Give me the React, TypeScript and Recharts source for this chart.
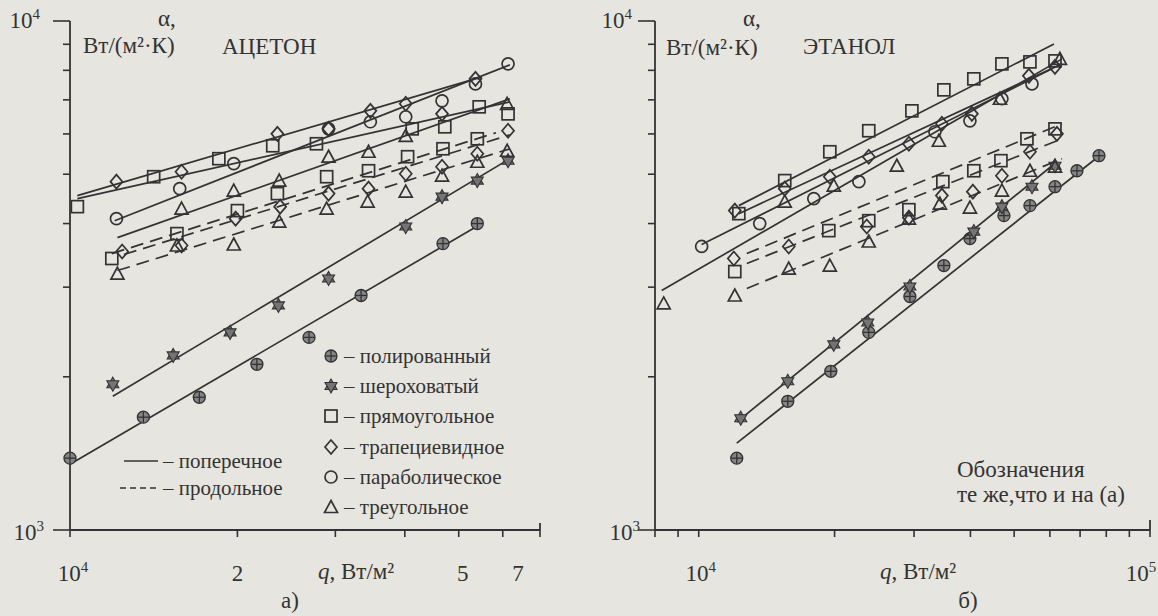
import React from "react";
import { ScatterChart, Scatter, XAxis, YAxis } from "recharts";

const W = 1158;
const H = 616;
const TOP = 21;
const BOTTOM = 530;
const INK = "#333";
const PAPER = "#e7e5df";
const FONT = "'Liberation Serif', 'Times New Roman', serif";

// ---- АЦЕТОН: [q, alpha] ----
const acePolished = [[10000, 1384], [13550, 1666], [17080, 1823], [21680, 2116], [26900, 2390], [33370, 2889], [46840, 3653], [54000, 4000]];
const acePolishedFit = [[10000, 1347], [55000, 4000]];
const aceRough = [[11940, 1934], [15330, 2203], [19400, 2445], [23700, 2762], [29170, 3120], [40150, 3946], [46660, 4518], [54000, 4858], [61330, 5316]];
const aceRoughFit = [[11940, 1831], [61800, 5364]];
const aceRect = [[10310, 4318], [14140, 4944], [18520, 5364], [23150, 5687], [27740, 5739], [41240, 6139], [47200, 6196], [54420, 6782], [61330, 6570]];
const aceRectFit = [[10310, 4477], [61800, 6937]];
const aceTrap = [[12120, 4835], [15870, 5056], [23600, 6002], [29170, 6139], [34680, 6660], [40150, 6876], [46660, 6570], [53590, 7697]];
const aceTrapFit = [[10310, 4539], [55050, 7766]];
const acePara = [[12120, 4090], [15750, 4684], [19700, 5244], [29170, 6139], [34680, 6339], [40150, 6484], [46660, 6968], [53590, 7523], [61330, 8237]];
const aceParaFit = [[12030, 4052], [61800, 8199]];
const aceTri = [[15870, 4279], [19700, 4642], [23780, 4858], [29170, 5412], [34420, 5535], [40150, 5948], [61090, 6876]];
const aceTriFit = [[12170, 3754], [61800, 7034]];
const aceRectL = [[11890, 3415], [15570, 3822], [20000, 4241], [23600, 4580], [28940, 4944], [34420, 5079], [40460, 5412], [46840, 5610], [54000, 5869]];
const aceRectLFit = [[11890, 3492], [58340, 6032]];
const aceTrapL = [[12410, 3525], [15870, 3622], [19850, 4090], [23870, 4318], [29170, 4580], [34420, 4684], [40150, 5012], [46660, 5173], [54000, 5486], [61330, 6087]];
const aceTrapLFit = [[12500, 3477], [61800, 5976]];
const aceTriL = [[12170, 3190], [15570, 3622], [19700, 3638], [23780, 4036], [28940, 4279], [34290, 4416], [40150, 4621], [46660, 4967], [54000, 5290], [61090, 5560]];
const aceTriLFit = [[12170, 3234], [61800, 5610]];

// ---- ЭТАНОЛ: [q, alpha] ----
const ethRect = [[12270, 4183], [15510, 4858], [19520, 5535], [23810, 6087], [29670, 6660], [34930, 7324], [40700, 7697], [46970, 8237], [54190, 8311], [61580, 8349]];
const ethRectFit = [[12270, 4338], [61260, 9013]];
const ethTrap = [[12020, 4241], [15510, 4684], [19520, 4944], [23810, 5412], [29220, 5739], [34580, 6281], [40300, 6570], [53910, 7802], [61580, 8126]];
const ethTrapFit = [[12270, 4183], [63810, 8237]];
const ethPara = [[10150, 3606], [13650, 4000], [17990, 4477], [22640, 4835], [33370, 6059], [39900, 6367], [46970, 7034], [54760, 7523]];
const ethParaFit = [[10150, 3638], [60640, 8054]];
const ethTri = [[8363, 2787], [15510, 4416], [19920, 4748], [27480, 5196], [34050, 5817], [46500, 7034], [63150, 8425]];
const ethTriFit = [[8278, 2955], [63810, 8425]];
const ethRectL = [[12020, 3219], [19420, 3874], [23810, 4052], [29220, 4259], [34750, 4835], [40700, 5079], [46740, 5316], [53370, 5869], [61580, 6139]];
const ethRectLFit = [[12780, 3492], [63810, 6281]];
const ethTrapL = [[11960, 3415], [15830, 3606], [23570, 3946], [29220, 4108], [34580, 4539], [40500, 4621], [46970, 4967], [54190, 5535], [62200, 6002]];
const ethTrapLFit = [[12780, 3339], [63810, 5869]];
const ethTriL = [[12020, 2889], [15830, 3263], [19520, 3308], [23810, 3688], [29220, 4090], [34230, 4377], [39900, 4300], [46970, 4642], [54190, 5079], [61580, 5173]];
const ethTriLFit = [[12780, 2982], [63810, 5364]];
const ethRough = [[12390, 1658], [15750, 1960], [19920, 2316], [23690, 2557], [29370, 3009], [40700, 3857], [46970, 4318], [54760, 4726], [61580, 5196]];
const ethRoughFit = [[12140, 1629], [62200, 5290]];
const ethPolished = [[12140, 1384], [15750, 1790], [19620, 2050], [23810, 2445], [29370, 2876], [34930, 3308], [39900, 3737], [47460, 4146], [54190, 4338], [61580, 4726], [68890, 5079], [77080, 5437]];
const ethPolishedFit = [[12140, 1481], [78280, 5486]];

// ---- axes ----
const yTicks = [1000, 2000, 3000, 4000, 5000, 6000, 7000, 8000, 9000, 10000];
const aceXTicks = [10000, 20000, 30000, 40000, 50000, 60000, 70000];
const ethXTicks = [8000, 9000, 10000, 20000, 30000, 40000, 50000, 60000, 70000, 80000, 90000, 100000];
const aceXLabels = [
  { v: 10000, base: "10", sup: "4", dx: 3 },
  { v: 20000, base: "2", sup: "", dx: 0 },
  { v: 50000, base: "5", sup: "", dx: 4 },
  { v: 70000, base: "7", sup: "", dx: -22 },
];
const ethXLabels = [
  { v: 10000, base: "10", sup: "4", dx: 2 },
  { v: 100000, base: "10", sup: "5", dx: -9 },
];

const legendNames = ["полированный", "шероховатый", "прямоугольное", "трапециевидное", "параболическое", "треугольное"];
const lineNames = ["поперечное", "продольное"];

type MP = { cx?: number; cy?: number };

const Polished = ({ cx = 0, cy = 0 }: MP) => (
  <g stroke={INK} strokeWidth={1.3}>
    <circle cx={cx} cy={cy} r={6} fill="#858585" />
    <line x1={cx - 5.5} x2={cx + 5.5} y1={cy} y2={cy} />
    <line x1={cx} x2={cx} y1={cy - 5.5} y2={cy + 5.5} />
  </g>
);
const Star = ({ cx = 0, cy = 0 }: MP) => (
  <g fill="#747474" stroke={INK} strokeWidth={1.1}>
    <path d={`M${cx},${cy - 7} L${cx + 6},${cy + 3.5} L${cx - 6},${cy + 3.5} Z`} />
    <path d={`M${cx},${cy + 7} L${cx + 6},${cy - 3.5} L${cx - 6},${cy - 3.5} Z`} />
  </g>
);
const Square = ({ cx = 0, cy = 0 }: MP) => (
  <rect x={cx - 6} y={cy - 6} width={12} height={12} fill="none" stroke={INK} strokeWidth={1.7} />
);
const Diamond = ({ cx = 0, cy = 0 }: MP) => (
  <path d={`M${cx},${cy - 7} L${cx + 6},${cy} L${cx},${cy + 7} L${cx - 6},${cy} Z`} fill="none" stroke={INK} strokeWidth={1.7} />
);
const Ring = ({ cx = 0, cy = 0 }: MP) => <circle cx={cx} cy={cy} r={6} fill="none" stroke={INK} strokeWidth={1.7} />;
const Tri = ({ cx = 0, cy = 0 }: MP) => (
  <path d={`M${cx},${cy - 6.5} L${cx + 6.5},${cy + 5.5} L${cx - 6.5},${cy + 5.5} Z`} fill="none" stroke={INK} strokeWidth={1.7} />
);
const NoMark = () => <g />;

const legendShapes = [Polished, Star, Square, Diamond, Ring, Tri];

type Series = { data: number[][]; fit: number[][]; shape: (p: MP) => React.ReactElement; dashed?: boolean };

const aceSeries: Series[] = [
  { data: acePolished, fit: acePolishedFit, shape: Polished },
  { data: aceRough, fit: aceRoughFit, shape: Star },
  { data: aceRect, fit: aceRectFit, shape: Square },
  { data: aceTrap, fit: aceTrapFit, shape: Diamond },
  { data: acePara, fit: aceParaFit, shape: Ring },
  { data: aceTri, fit: aceTriFit, shape: Tri },
  { data: aceRectL, fit: aceRectLFit, shape: Square, dashed: true },
  { data: aceTrapL, fit: aceTrapLFit, shape: Diamond, dashed: true },
  { data: aceTriL, fit: aceTriLFit, shape: Tri, dashed: true },
];

const ethSeries: Series[] = [
  { data: ethPolished, fit: ethPolishedFit, shape: Polished },
  { data: ethRough, fit: ethRoughFit, shape: Star },
  { data: ethRect, fit: ethRectFit, shape: Square },
  { data: ethTrap, fit: ethTrapFit, shape: Diamond },
  { data: ethPara, fit: ethParaFit, shape: Ring },
  { data: ethTri, fit: ethTriFit, shape: Tri },
  { data: ethRectL, fit: ethRectLFit, shape: Square, dashed: true },
  { data: ethTrapL, fit: ethTrapLFit, shape: Diamond, dashed: true },
  { data: ethTriL, fit: ethTriLFit, shape: Tri, dashed: true },
];

const pts = (arr: number[][]) => arr.map(([q, a]) => ({ q, a }));

function SupText({ x, y, anchor, base, sup, size = 23 }: any) {
  return (
    <text x={x} y={y} textAnchor={anchor} fontFamily={FONT} fontSize={size} fill={INK}>
      {base}
      {sup ? (
        <tspan dy={-9} fontSize={15}>
          {sup}
        </tspan>
      ) : null}
    </text>
  );
}

const makeXTick = (labels: typeof aceXLabels, lastV: number, endUp: number) => (p: any) => {
  const x = p.x;
  const v = p.payload.value;
  const lab = labels.find((l) => l.v === v);
  return (
    <g>
      <line x1={x} x2={x} y1={BOTTOM} y2={BOTTOM + 7} stroke={INK} strokeWidth={1.6} />
      {v === lastV && <line x1={x} x2={x} y1={BOTTOM} y2={BOTTOM - endUp} stroke={INK} strokeWidth={1.8} />}
      {lab && <SupText x={x + lab.dx} y={581} anchor="middle" base={lab.base} sup={lab.sup} />}
    </g>
  );
};

const makeYTick = (axisX: number, topRight: number, bottomRight: number) => (p: any) => {
  const y = p.y;
  const v = p.payload.value;
  const major = v === 1000 || v === 10000;
  return (
    <g>
      <line x1={axisX - (major ? 17 : 7)} x2={axisX} y1={y} y2={y} stroke={INK} strokeWidth={1.6} />
      {v === 10000 && <SupText x={topRight} y={y + 7} anchor="end" base="10" sup="4" />}
      {v === 1000 && <SupText x={bottomRight} y={y + 10} anchor="end" base="10" sup="3" />}
    </g>
  );
};

function Panel({ x0, x1, domain, xTicks, xTick, yTick, series }: any) {
  return (
    <div style={{ position: "absolute", left: 0, top: 0 }}>
      <ScatterChart width={W} height={H} margin={{ top: TOP, bottom: H - BOTTOM - 40, left: x0 - 40, right: W - x1 }}>
        <XAxis
          type="number"
          dataKey="q"
          scale="log"
          domain={domain}
          ticks={xTicks}
          interval={0}
          tick={xTick}
          tickLine={false}
          axisLine={{ stroke: INK, strokeWidth: 1.8 }}
          height={40}
        />
        <YAxis
          type="number"
          dataKey="a"
          scale="log"
          domain={[1000, 10000]}
          ticks={yTicks}
          interval={0}
          tick={yTick}
          tickLine={false}
          axisLine={{ stroke: INK, strokeWidth: 1.8 }}
          width={40}
        />
        {(series as Series[]).flatMap((s, i) => [
          <Scatter
            key={`fit${i}`}
            data={pts(s.fit)}
            line={{ stroke: INK, strokeWidth: 1.7, strokeDasharray: s.dashed ? "13 7" : undefined }}
            shape={NoMark}
            legendType="none"
            isAnimationActive={false}
          />,
          <Scatter key={`pts${i}`} data={pts(s.data)} shape={s.shape} legendType="none" isAnimationActive={false} />,
        ])}
      </ScatterChart>
    </div>
  );
}

function Notes() {
  const t = { fontFamily: FONT, fontSize: 23, fill: INK };
  const lg = { fontFamily: FONT, fontSize: 21, fill: INK };
  const rows = [356, 386, 416, 447, 477, 507];
  return (
    <svg width={W} height={H} style={{ position: "absolute", left: 0, top: 0, pointerEvents: "none" }}>
      {/* left panel captions */}
      <text x={158} y={26} {...t}>α,</text>
      <text x={83} y={53} {...t}>Вт/(м²·К)</text>
      <text x={222} y={54} {...t}>АЦЕТОН</text>
      <text x={318} y={579} {...t}>
        <tspan fontStyle="italic">q</tspan>, Вт/м²
      </text>
      <text x={290} y={608} textAnchor="middle" {...t}>а)</text>
      {legendNames.map((n, i) => {
        const M = legendShapes[i];
        return (
          <g key={n}>
            <M cx={331} cy={rows[i]} />
            <text x={344} y={rows[i] + 7} {...lg}>– {n}</text>
          </g>
        );
      })}
      <line x1={124} x2={158} y1={461} y2={461} stroke={INK} strokeWidth={1.6} />
      <line x1={120} x2={158} y1={488} y2={488} stroke={INK} strokeWidth={1.6} strokeDasharray="6 4" />
      <text x={163} y={468} {...lg}>– {lineNames[0]}</text>
      <text x={163} y={495} {...lg}>– {lineNames[1]}</text>
      {/* right panel captions */}
      <text x={743} y={26} {...t}>α,</text>
      <text x={666} y={55} {...t}>Вт/(м²·К)</text>
      <text x={803} y={54} {...t}>ЭТАНОЛ</text>
      <text x={880} y={579} {...t}>
        <tspan fontStyle="italic">q</tspan>, Вт/м²
      </text>
      <text x={968} y={608} textAnchor="middle" {...t}>б)</text>
      <text x={957} y={477} {...t}>Обозначения</text>
      <text x={957} y={502} {...t}>те же,что и на (а)</text>
    </svg>
  );
}

export default function App() {
  return (
    <div style={{ position: "absolute", left: 0, top: 0, width: W, height: H, background: PAPER, overflow: "hidden" }}>
      <Panel
        x0={70}
        x1={540}
        domain={[10000, 70000]}
        xTicks={aceXTicks}
        xTick={makeXTick(aceXLabels, 70000, 7)}
        yTick={makeYTick(70, 40, 44)}
        series={aceSeries}
      />
      <Panel
        x0={655}
        x1={1150}
        domain={[8000, 100000]}
        xTicks={ethXTicks}
        xTick={makeXTick(ethXLabels, 100000, 10)}
        yTick={makeYTick(655, 632, 640)}
        series={ethSeries}
      />
      <Notes />
    </div>
  );
}
